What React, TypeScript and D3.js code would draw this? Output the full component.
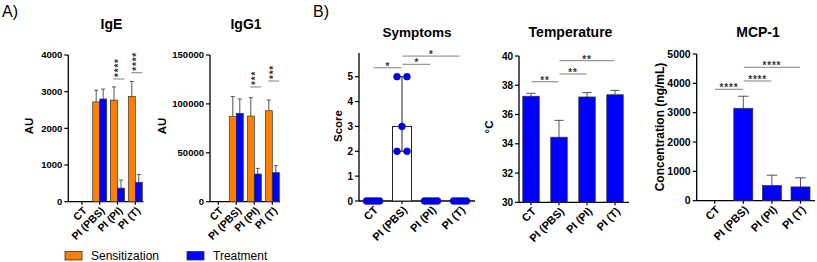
import React, { useEffect, useRef } from "react";
import * as d3 from "d3";

const groups = ["CT", "PI (PBS)", "PI (PI)", "PI (T)"];

// A) IgE (AU), mean and SD
const igeSensitization = [0, 2720, 2770, 2870];
const igeSensitizationSd = [0, 320, 360, 410];
const igeTreatment = [0, 2800, 370, 530];
const igeTreatmentSd = [0, 270, 220, 210];
const igeSig = [
  { group: "PI (PI)", level: 3346, label: "****" },
  { group: "PI (T)", level: 3517, label: "****" },
];

// A) IgG1 (AU)
const igg1Sensitization = [0, 87000, 87600, 93000];
const igg1SensitizationSd = [0, 20500, 18800, 11000];
const igg1Treatment = [0, 90300, 28300, 29700];
const igg1TreatmentSd = [0, 14700, 5800, 7100];
const igg1Sig = [
  { group: "PI (PI)", level: 117300, label: "***" },
  { group: "PI (T)", level: 123400, label: "***" },
];

// B) symptom scores per mouse
const symptomScores = [
  [0, 0, 0, 0, 0],
  [5, 5, 3, 2, 2],
  [0, 0, 0, 0, 0],
  [0, 0, 0, 0, 0],
];
const symptomSig = [
  { from: "CT", to: "PI (PBS)", level: 5.36, label: "*" },
  { from: "PI (PBS)", to: "PI (PI)", level: 5.5, label: "*" },
  { from: "PI (PBS)", to: "PI (T)", level: 5.83, label: "*" },
];

// B) temperature (°C)
const temperatureMean = [37.25, 34.45, 37.2, 37.35];
const temperatureSd = [0.2, 1.15, 0.3, 0.3];
const temperatureSig = [
  { from: "CT", to: "PI (PBS)", level: 38.24, label: "**" },
  { from: "PI (PBS)", to: "PI (PI)", level: 38.77, label: "**" },
  { from: "PI (PBS)", to: "PI (T)", level: 39.68, label: "**" },
];

// B) MCP-1 (ng/mL)
const mcpMean = [0, 3150, 520, 470];
const mcpSd = [0, 410, 350, 310];
const mcpSig = [
  { from: "CT", to: "PI (PBS)", level: 3797, label: "****" },
  { from: "PI (PBS)", to: "PI (PI)", level: 4080, label: "****" },
  { from: "PI (PBS)", to: "PI (T)", level: 4547, label: "****" },
];

const FONT = "'Liberation Sans', Arial, Helvetica, sans-serif";
const ORANGE = "#FF7F00";
const BLUE = "#0000FF";

function frame(svg, o) {
  const g = svg.append("g");
  const x = d3
    .scaleBand()
    .domain(groups)
    .range([o.x0, o.x0 + o.step * groups.length])
    .padding(0);
  const y = d3.scaleLinear().domain(o.domain).range([o.yBottom, o.yTop]);

  // y axis
  g.append("line")
    .attr("x1", o.axisX).attr("x2", o.axisX)
    .attr("y1", o.yBottom).attr("y2", o.yTop)
    .attr("stroke", "#000").attr("stroke-width", 1.3);
  o.ticks.forEach((t) => {
    g.append("line")
      .attr("x1", o.axisX - 4).attr("x2", o.axisX)
      .attr("y1", y(t)).attr("y2", y(t))
      .attr("stroke", "#000").attr("stroke-width", 1.2);
    g.append("text")
      .attr("x", o.axisX - 6)
      .attr("y", y(t))
      .attr("dy", "0.35em")
      .attr("text-anchor", "end")
      .style("font", `bold ${o.tickFont}px ${FONT}`)
      .text(d3.format("d")(t));
  });

  // x axis
  g.append("line")
    .attr("x1", o.axisX).attr("x2", o.xEnd)
    .attr("y1", o.yBottom).attr("y2", o.yBottom)
    .attr("stroke", "#000").attr("stroke-width", 1.3);
  groups.forEach((d) => {
    const cx = x(d) + x.bandwidth() / 2;
    g.append("line")
      .attr("x1", cx).attr("x2", cx)
      .attr("y1", o.yBottom).attr("y2", o.yBottom + 3)
      .attr("stroke", "#000").attr("stroke-width", 1.2);
    g.append("text")
      .attr("transform", `translate(${cx + 3},${o.yBottom + 7}) rotate(-45)`)
      .attr("text-anchor", "end")
      .attr("dy", "0.35em")
      .style("font", `bold ${o.labelFont}px ${FONT}`)
      .text(d);
  });

  // title and y label
  g.append("text")
    .attr("x", o.titleX).attr("y", o.titleY)
    .attr("text-anchor", "middle")
    .style("font", `bold ${o.titleFont}px ${FONT}`)
    .text(o.title);
  g.append("text")
    .attr("transform", `translate(${o.yLabelX},${o.yLabelY}) rotate(-90)`)
    .attr("text-anchor", "middle")
    .attr("dy", "0.35em")
    .style("font", `bold ${o.yLabelFont}px ${FONT}`)
    .text(o.yLabel);

  return { g, x, y };
}

function bars(g, x, y, values, sds, offset, width, fill) {
  values.forEach((v, i) => {
    if (v <= 0) return;
    const left = x(groups[i]) + offset;
    const top = y(v);
    const errTop = y(v + sds[i]);
    const mid = left + width / 2;
    const cap = width * 0.28;
    g.append("line")
      .attr("x1", mid).attr("x2", mid)
      .attr("y1", top).attr("y2", errTop)
      .attr("stroke", "#555").attr("stroke-width", 1);
    g.append("line")
      .attr("x1", mid - cap).attr("x2", mid + cap)
      .attr("y1", errTop).attr("y2", errTop)
      .attr("stroke", "#555").attr("stroke-width", 1);
    g.append("rect")
      .attr("x", left).attr("y", top)
      .attr("width", width).attr("height", y(y.domain()[0]) - top)
      .attr("fill", fill)
      .attr("stroke", "#333").attr("stroke-width", 0.7);
  });
}

function brackets(g, x, y, sig) {
  const cx = (d) => x(d) + x.bandwidth() / 2;
  sig.forEach((s) => {
    const x1 = cx(s.from) + 0.5;
    const x2 = cx(s.to) - 0.5;
    g.append("line")
      .attr("x1", x1).attr("x2", x2)
      .attr("y1", y(s.level)).attr("y2", y(s.level))
      .attr("stroke", "#808080").attr("stroke-width", 1);
    g.append("text")
      .attr("x", (x1 + x2) / 2)
      .attr("y", y(s.level) + 2)
      .attr("text-anchor", "middle")
      .attr("letter-spacing", s.label.length > 1 ? 0.8 : 0)
      .style("font", `bold 10px ${FONT}`)
      .attr("fill", "#333")
      .text(s.label);
  });
}

function verticalStars(g, x, y, sig) {
  sig.forEach((s) => {
    const cx = x(s.group) + x.bandwidth() / 2 + 1.5;
    const ly = y(s.level);
    g.append("line")
      .attr("x1", cx - 5.5).attr("x2", cx + 5.5)
      .attr("y1", ly).attr("y2", ly)
      .attr("stroke", "#808080").attr("stroke-width", 1);
    g.append("text")
      .attr("transform", `translate(${cx + 3},${ly - 2}) rotate(-90)`)
      .attr("text-anchor", "start")
      .attr("letter-spacing", 0.8)
      .style("font", `bold 10px ${FONT}`)
      .attr("fill", "#333")
      .text(s.label);
  });
}

function App() {
  const ref = useRef(null);

  useEffect(() => {
    const svg = d3.select(ref.current);
    svg.selectAll("*").remove();

    svg.append("text").attr("x", 2).attr("y", 17)
      .style("font", `16px ${FONT}`).text("A)");
    svg.append("text").attr("x", 313).attr("y", 17)
      .style("font", `16px ${FONT}`).text("B)");

    // IgE
    const ige = frame(svg, {
      x0: 73, step: 17.8, axisX: 68.3, xEnd: 143.5,
      yTop: 55, yBottom: 201.7, domain: [0, 4000],
      ticks: [0, 1000, 2000, 3000, 4000], tickFont: 9.5, labelFont: 10.5,
      title: "IgE", titleX: 111.5, titleY: 29, titleFont: 14,
      yLabel: "AU", yLabelX: 29, yLabelY: 126, yLabelFont: 11.5,
    });
    bars(ige.g, ige.x, ige.y, igeSensitization, igeSensitizationSd, 1.9, 7, ORANGE);
    bars(ige.g, ige.x, ige.y, igeTreatment, igeTreatmentSd, 8.9, 7, BLUE);
    verticalStars(ige.g, ige.x, ige.y, igeSig);

    // IgG1
    const igg = frame(svg, {
      x0: 209.3, step: 18, axisX: 210, xEnd: 280,
      yTop: 55, yBottom: 201.7, domain: [0, 150000],
      ticks: [0, 50000, 100000, 150000], tickFont: 9.5, labelFont: 10.5,
      title: "IgG1", titleX: 246, titleY: 29, titleFont: 14,
      yLabel: "AU", yLabelX: 162, yLabelY: 126, yLabelFont: 11.5,
    });
    bars(igg.g, igg.x, igg.y, igg1Sensitization, igg1SensitizationSd, 2, 7, ORANGE);
    bars(igg.g, igg.x, igg.y, igg1Treatment, igg1TreatmentSd, 9, 7, BLUE);
    verticalStars(igg.g, igg.x, igg.y, igg1Sig);

    // legend
    const leg = svg.append("g");
    [["Sensitization", ORANGE, 65], ["Treatment", BLUE, 187]].forEach(([name, color, lx]) => {
      leg.append("rect")
        .attr("x", lx).attr("y", 251.5).attr("width", 17).attr("height", 8.5)
        .attr("fill", color).attr("stroke", "#333").attr("stroke-width", 0.8);
      leg.append("text")
        .attr("x", lx + 26).attr("y", 260)
        .style("font", `12px ${FONT}`)
        .text(name);
    });

    // Symptoms
    const sym = frame(svg, {
      x0: 358.5, step: 29, axisX: 359, xEnd: 475,
      yTop: 53.1, yBottom: 201, domain: [0, 5.95],
      ticks: [0, 1, 2, 3, 4, 5], tickFont: 10, labelFont: 11,
      title: "Symptoms", titleX: 417, titleY: 36.5, titleFont: 13.5,
      yLabel: "Score", yLabelX: 338, yLabelY: 126, yLabelFont: 11.5,
    });
    symptomScores.forEach((vals, i) => {
      const cx = sym.x(groups[i]) + sym.x.bandwidth() / 2;
      const med = d3.median(vals);
      const [lo, hi] = d3.extent(vals);
      const bw = 19;
      if (med > 0) {
        sym.g.append("rect")
          .attr("x", cx - bw / 2).attr("y", sym.y(med))
          .attr("width", bw).attr("height", sym.y(0) - sym.y(med))
          .attr("fill", "#fff").attr("stroke", "#222").attr("stroke-width", 1);
        [lo, hi].forEach((v) => {
          sym.g.append("line")
            .attr("x1", cx).attr("x2", cx)
            .attr("y1", sym.y(med)).attr("y2", sym.y(v))
            .attr("stroke", "#222").attr("stroke-width", 1);
          sym.g.append("line")
            .attr("x1", cx - 6).attr("x2", cx + 6)
            .attr("y1", sym.y(v)).attr("y2", sym.y(v))
            .attr("stroke", "#222").attr("stroke-width", 1);
        });
      }
      const byValue = d3.group(vals, (v) => v);
      byValue.forEach((pts, v) => {
        const n = pts.length;
        const dx = n > 1 ? Math.min(10, 13 / (n - 1)) : 0;
        pts.forEach((_, j) => {
          sym.g.append("circle")
            .attr("cx", cx + (j - (n - 1) / 2) * dx)
            .attr("cy", sym.y(v))
            .attr("r", 3.4)
            .attr("fill", BLUE)
            .attr("stroke", "#00008B").attr("stroke-width", 0.6);
        });
      });
    });
    brackets(sym.g, sym.x, sym.y, symptomSig);

    // Temperature
    const tmp = frame(svg, {
      x0: 517, step: 28, axisX: 519, xEnd: 629,
      yTop: 56, yBottom: 202.3, domain: [30, 40],
      ticks: [30, 32, 34, 36, 38, 40], tickFont: 10, labelFont: 11,
      title: "Temperature", titleX: 570.5, titleY: 36.5, titleFont: 14,
      yLabel: "°C", yLabelX: 488.5, yLabelY: 127, yLabelFont: 11.5,
    });
    bars(tmp.g, tmp.x, tmp.y, temperatureMean, temperatureSd, 5.75, 16.5, BLUE);
    brackets(tmp.g, tmp.x, tmp.y, temperatureSig);

    // MCP-1
    const mcp = frame(svg, {
      x0: 700.4, step: 28.6, axisX: 696.7, xEnd: 815,
      yTop: 54, yBottom: 200.7, domain: [0, 5000],
      ticks: [0, 1000, 2000, 3000, 4000, 5000], tickFont: 10.5, labelFont: 11,
      title: "MCP-1", titleX: 758, titleY: 36.5, titleFont: 14,
      yLabel: "Concentration (ng/mL)", yLabelX: 660, yLabelY: 127, yLabelFont: 12,
    });
    bars(mcp.g, mcp.x, mcp.y, mcpMean, mcpSd, 4.8, 19, BLUE);
    brackets(mcp.g, mcp.x, mcp.y, mcpSig);
  }, []);

  return (
    <svg
      ref={ref}
      width={817}
      height={262}
      style={{ position: "absolute", left: 0, top: 0, background: "#fff" }}
    />
  );
}

export default App;
